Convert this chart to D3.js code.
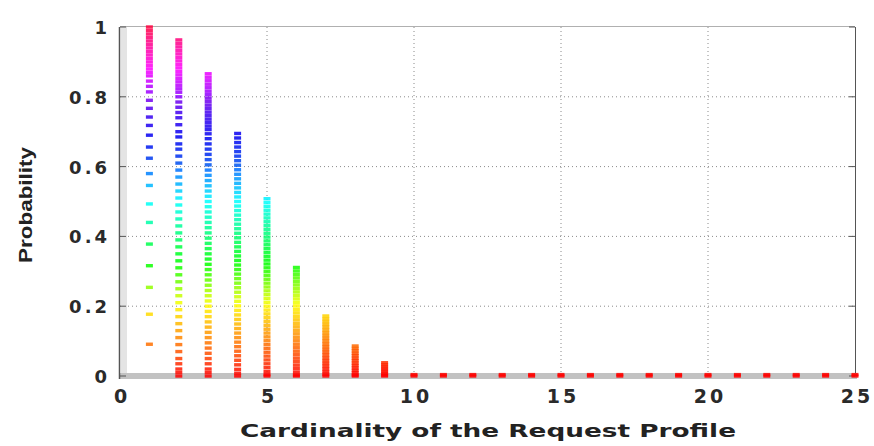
<!DOCTYPE html>
<html><head><meta charset="utf-8">
<script src="https://cdn.jsdelivr.net/npm/d3@7/dist/d3.min.js"></script>
<style>body{margin:0;background:#fff}svg{display:block}</style>
</head><body><svg id="c" width="874" height="446"></svg>
<script>
const xTicks = [0,5,10,15,20,25];
const yTicks = [0,0.2,0.4,0.6,0.8,1];
const yTickLabels = ["0","0.2","0.4","0.6","0.8","1"];
const xLabel = "Cardinality of the Request Profile";
const yLabel = "Probability";
const col1 = [1.0,0.99,0.98,0.97,0.96,0.95,0.94,0.93,0.92,0.91,0.90,0.89,0.88,0.87,0.86,0.845,0.83,0.814,0.79,0.767,0.742,0.718,0.69,0.656,0.624,0.58,0.546,0.493,0.44,0.378,0.316,0.254,0.177,0.091];
const col2 = [0.963,0.953,0.943,0.933,0.923,0.913,0.903,0.893,0.883,0.873,0.863,0.853,0.843,0.833,0.823,0.813,0.80,0.785,0.77,0.755,0.74,0.72,0.70,0.685,0.665,0.65,0.63,0.61,0.59,0.57,0.55,0.53,0.51,0.49,0.47,0.45,0.43,0.41,0.39,0.37,0.35,0.33,0.31,0.29,0.27,0.25,0.23,0.21,0.19,0.17,0.15,0.13,0.11,0.09,0.07,0.05,0.035,0.02,0.01,0.0];
const col3 = [0.866,0.856,0.846,0.836,0.826,0.816,0.806,0.796,0.786,0.776,0.766,0.756,0.746,0.736,0.726,0.716,0.706,0.694,0.68,0.665,0.65,0.635,0.62,0.605,0.59,0.575,0.56,0.545,0.53,0.515,0.50,0.485,0.47,0.455,0.44,0.425,0.41,0.395,0.38,0.365,0.35,0.335,0.32,0.305,0.29,0.275,0.26,0.245,0.23,0.215,0.20,0.185,0.17,0.155,0.14,0.125,0.11,0.095,0.08,0.065,0.05,0.035,0.02,0.01,0.0];
const col4 = [0.695,0.682,0.669,0.656,0.643,0.63,0.617,0.604,0.591,0.578,0.565,0.552,0.539,0.526,0.513,0.50,0.487,0.474,0.461,0.448,0.435,0.422,0.409,0.396,0.383,0.37,0.357,0.344,0.331,0.318,0.305,0.292,0.279,0.266,0.253,0.24,0.227,0.214,0.201,0.188,0.175,0.162,0.149,0.136,0.123,0.11,0.097,0.084,0.071,0.058,0.045,0.032,0.019,0.008,0.0];
const col5 = [0.508,0.497,0.486,0.475,0.464,0.453,0.442,0.431,0.42,0.409,0.398,0.387,0.376,0.365,0.354,0.343,0.332,0.321,0.31,0.299,0.288,0.277,0.266,0.255,0.244,0.233,0.222,0.211,0.2,0.189,0.178,0.167,0.156,0.145,0.134,0.123,0.112,0.101,0.09,0.079,0.068,0.057,0.046,0.035,0.024,0.013,0.004,0.0];
const col6 = [0.311,0.301,0.291,0.281,0.271,0.261,0.251,0.241,0.231,0.221,0.211,0.201,0.191,0.181,0.171,0.161,0.151,0.141,0.131,0.121,0.111,0.101,0.091,0.081,0.071,0.061,0.051,0.041,0.031,0.021,0.011,0.003,0.0];
const col7 = [0.172,0.164,0.156,0.148,0.14,0.132,0.124,0.116,0.108,0.1,0.092,0.084,0.076,0.068,0.06,0.052,0.044,0.036,0.028,0.02,0.012,0.005,0.0];
const col8 = [0.086,0.079,0.072,0.065,0.058,0.051,0.044,0.037,0.030,0.023,0.016,0.009,0.003,0.0];
const col9 = [0.038,0.032,0.026,0.020,0.014,0.008,0.003,0.0];
const colTail = [0.004,0.0]; // used for cardinalities 10..25
const tailCards = [10,11,12,13,14,15,16,17,18,19,20,21,22,23,24,25];
// colour map stops (probability -> hue)
const hueStops = [0,0.2,0.31,0.5,0.63,0.75,0.88,1];
const hueVals  = [0,58,115,180,228,255,300,345];

const columns = [[1,col1],[2,col2],[3,col3],[4,col4],[5,col5],[6,col6],[7,col7],[8,col8],[9,col9]];
tailCards.forEach(c => columns.push([c, colTail]));
const points = [];
columns.forEach(([c, vals]) => vals.forEach(v => points.push({c, v})));

const svg = d3.select("#c");
const x = d3.scaleLinear().domain([0,25]).range([120,855]);
const y = d3.scaleLinear().domain([0,1]).range([376,27]);
const hue = d3.scaleLinear().domain(hueStops).range(hueVals);
const color = v => d3.hsl(hue(v), 1, v > 0.6 && v < 0.8 ? 0.47 : 0.5).toString();

// grid
const g = svg.append("g");
g.selectAll(".gx").data(xTicks.filter(t=>t>0&&t<25)).join("line")
  .attr("x1",d=>x(d)).attr("x2",d=>x(d)).attr("y1",y(1)).attr("y2",y(0))
  .attr("stroke","#8a8a8a").attr("stroke-width",1).attr("stroke-dasharray","1,3");
g.selectAll(".gy").data(yTicks.filter(t=>t>0&&t<1)).join("line")
  .attr("x1",x(0)).attr("x2",x(25)).attr("y1",d=>y(d)).attr("y2",d=>y(d))
  .attr("stroke","#8a8a8a").attr("stroke-width",1).attr("stroke-dasharray","1,3");

// frame
svg.append("rect").attr("x",x(0)+1).attr("y",y(1)).attr("width",6).attr("height",y(0)-y(1)).attr("fill","#e4e4e4");
svg.append("line").attr("x1",x(0)).attr("x2",x(25)).attr("y1",y(1)-0.5).attr("y2",y(1)-0.5).attr("stroke","#b0b0b0");
svg.append("line").attr("x1",x(25)+0.5).attr("x2",x(25)+0.5).attr("y1",y(1)).attr("y2",y(0)).attr("stroke","#555");
svg.append("rect").attr("x",x(0)).attr("y",y(0)-3).attr("width",x(25)-x(0)+2).attr("height",6).attr("fill","#c2c2c2");
svg.append("line").attr("x1",x(0)-0.5).attr("x2",x(0)-0.5).attr("y1",y(1)).attr("y2",y(0)+3).attr("stroke","#555").attr("stroke-width",1.5);

// ticks (inward)
const tk = svg.append("g").attr("stroke","#555");
yTicks.forEach(t=>{
  tk.append("line").attr("x1",x(0)).attr("x2",x(0)+6).attr("y1",y(t)).attr("y2",y(t));
  tk.append("line").attr("x1",x(25)).attr("x2",x(25)-6).attr("y1",y(t)).attr("y2",y(t));
});

// points
svg.append("g").selectAll("rect").data(points).join("rect")
  .attr("x",d=>x(d.c)-3.5).attr("y",d=>y(d.v)-1.7)
  .attr("width",7).attr("height",3.4)
  .attr("fill",d=>color(d.v)).attr("fill-opacity",0.85);

// tick labels
const fontF = "'DejaVu Sans', sans-serif";
svg.append("g").selectAll("text").data(xTicks).join("text")
  .attr("x",d=>x(d)+2).attr("y",403).attr("text-anchor","middle")
  .attr("font-family",fontF).attr("font-weight","bold").attr("font-size",19)
  .attr("letter-spacing",3).attr("fill","#2a2a2a").text(d=>d);
svg.append("g").selectAll("text").data(yTicks).join("text")
  .attr("x",110).attr("y",d=>y(d)+7).attr("text-anchor","end")
  .attr("font-family",fontF).attr("font-weight","bold").attr("font-size",18)
  .attr("letter-spacing",3).attr("fill","#2a2a2a").text((d,i)=>yTickLabels[i]);

// axis labels
svg.append("text").attr("x",240).attr("y",437)
  .attr("font-family",fontF).attr("font-weight","bold").attr("font-size",18)
  .attr("textLength",496).attr("lengthAdjust","spacingAndGlyphs")
  .attr("fill","#222").text(xLabel);
svg.append("text").attr("transform","translate(32,205) rotate(-90)")
  .attr("text-anchor","middle")
  .attr("font-family","'Liberation Sans', sans-serif").attr("font-weight","bold").attr("font-size",19)
  .attr("textLength",116).attr("lengthAdjust","spacingAndGlyphs")
  .attr("fill","#222").text(yLabel);
</script></body></html>
